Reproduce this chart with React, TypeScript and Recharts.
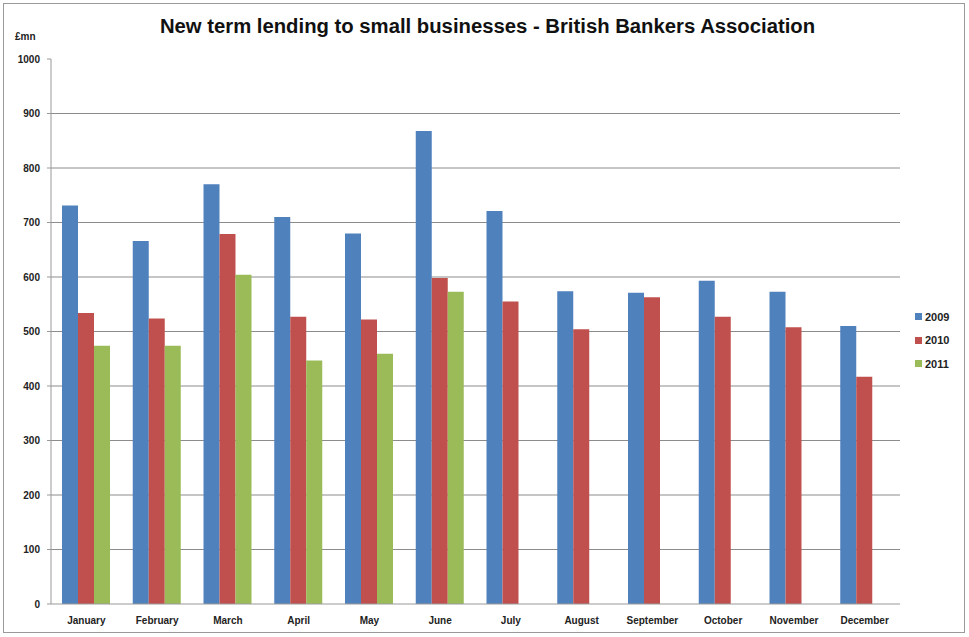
import React from "react";
import { BarChart, Bar, XAxis, YAxis, CartesianGrid, Legend } from "recharts";

const months = ["January","February","March","April","May","June","July","August","September","October","November","December"];
const v2009 = [731, 666, 770, 710, 680, 868, 721, 574, 571, 593, 573, 510];
const v2010 = [534, 524, 679, 527, 522, 598, 555, 504, 563, 527, 508, 417];
const v2011: (number | null)[] = [474, 474, 604, 447, 459, 573, null, null, null, null, null, null];
const yTicks = [0, 100, 200, 300, 400, 500, 600, 700, 800, 900, 1000];
const edgeTicks = [0,1,2,3,4,5,6,7,8,9,10,11,12];

const data = months.map((m, i) => ({ month: m, "2009": v2009[i], "2010": v2010[i], "2011": v2011[i] }));

const FONT = "'Liberation Sans', Arial, sans-serif";

const LegendContent = (props: any) => {
  const { payload } = props;
  return (
    <div style={{ fontFamily: FONT, fontSize: 11, fontWeight: "bold", color: "#222", width: 60 }}>
      {payload.map((p: any) => (
        <div key={p.value} style={{ display: "flex", alignItems: "center", height: 23.5 }}>
          <span style={{ display: "inline-block", width: 7, height: 7, background: p.color, marginRight: 3 }} />
          {p.value}
        </div>
      ))}
    </div>
  );
};

export default function App() {
  return (
    <div style={{ position: "absolute", left: 0, top: 0, width: 969, height: 637, background: "#fff" }}>
      <div style={{ position: "absolute", left: 3, top: 3, width: 962, height: 630, border: "1px solid #9a9a9a", boxSizing: "border-box" }} />
      <div style={{ position: "absolute", left: 0, top: 15, width: 975, textAlign: "center", fontFamily: FONT, fontWeight: "bold", fontSize: 20.3, color: "#111" }}>
        New term lending to small businesses - British Bankers Association
      </div>
      <div style={{ position: "absolute", left: 15, top: 31, fontFamily: FONT, fontWeight: "bold", fontSize: 10, color: "#222" }}>£mn</div>
      <BarChart
        width={969}
        height={637}
        data={data}
        margin={{ top: 59, right: 9, bottom: 0, left: 6 }}
        barCategoryGap="33%"
        barGap={0}
      >
        <CartesianGrid xAxisId="cat" vertical={false} horizontalValues={[100,200,300,400,500,600,700,800,900]} stroke="#8c8c8c" strokeWidth={1} />
        <XAxis xAxisId="edge" type="number" domain={[0, 12]} ticks={edgeTicks} height={0} axisLine={false} tickLine={{ stroke: "#999" }} tickSize={4} tick={() => <g />} allowDataOverflow />
        <XAxis xAxisId="cat" dataKey="month" height={33} axisLine={{ stroke: "#999" }} tickLine={false} interval={0} tickMargin={7}
          tick={{ fontFamily: FONT, fontSize: 10, fontWeight: "bold", fill: "#222" }} />
        <YAxis domain={[0, 1000]} ticks={yTicks} width={45} axisLine={{ stroke: "#999" }} tickLine={{ stroke: "#999" }} tickSize={4} tickMargin={7}
          tick={{ fontFamily: FONT, fontSize: 10, fontWeight: "bold", fill: "#222" }} interval={0} />
        <Legend layout="vertical" verticalAlign="top" align="right" content={<LegendContent />}
          wrapperStyle={{ position: "absolute", left: 915, top: 305, width: 60 }} />
        <Bar xAxisId="cat" dataKey="2009" fill="#4F81BD" barSize={16} isAnimationActive={false} />
        <Bar xAxisId="cat" dataKey="2010" fill="#C0504D" barSize={16} isAnimationActive={false} />
        <Bar xAxisId="cat" dataKey="2011" fill="#9BBB59" barSize={16} isAnimationActive={false} />
      </BarChart>
    </div>
  );
}
